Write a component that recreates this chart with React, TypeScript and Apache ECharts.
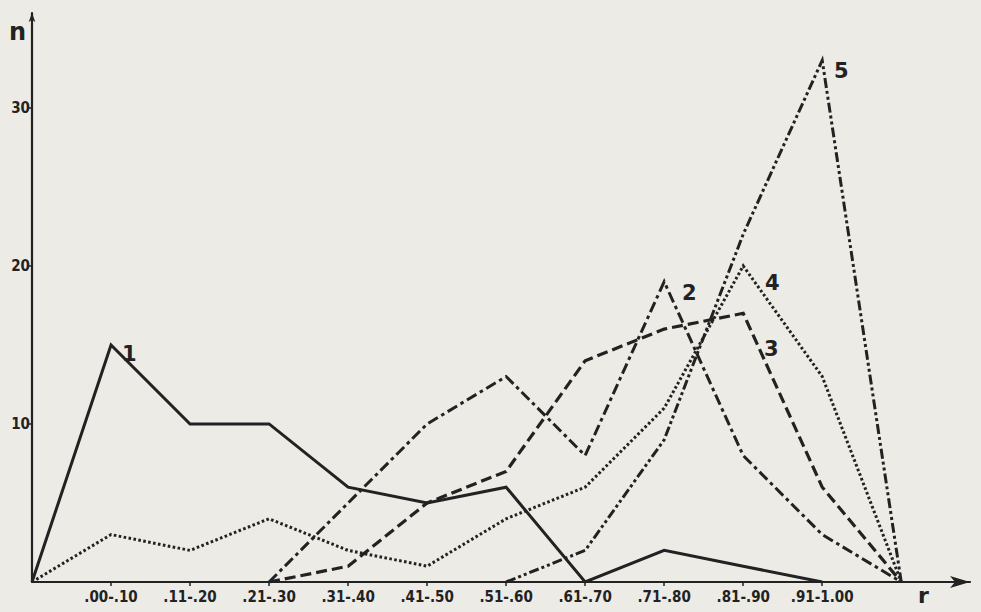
import React, { useEffect, useRef } from "react";
import * as echarts from "echarts";

const categories = [".00-.10", ".11-.20", ".21-.30", ".31-.40", ".41-.50", ".51-.60", ".61-.70", ".71-.80", ".81-.90", ".91-1.00"];
// index 0 = origin, 1..10 = categories, 11 = end point
const series1 = [0, 15, 10, 10, 6, 5, 6, 0, 2, 1, 0, null];
const series2 = [null, null, null, 0, 5, 10, 13, 8, 19, 8, 3, 0];
const series3 = [null, null, null, 0, 1, 5, 7, 14, 16, 17, 6, 0];
const series4 = [0, 3, 2, 4, 2, 1, 4, 6, 11, 20, 13, 0];
const series5 = [null, null, null, null, null, null, 0, 2, 9, 22, 33, 0];
const yTicks = [10, 20, 30];
const seriesLabels = ["1", "2", "3", "4", "5"];

const INK = "#222222";
const FONT = "'Liberation Sans Narrow', 'DejaVu Sans Condensed', 'Liberation Sans', sans-serif";

function toPairs(arr: (number | null)[]) {
  return arr.map((v, i) => [i, v]).filter((p) => p[1] !== null);
}

export default function App() {
  const ref = useRef<HTMLDivElement>(null);
  useEffect(() => {
    document.body.style.margin = "0";
    const chart = echarts.init(ref.current!, null, { renderer: "svg" });
    const mk = (name: string, data: (number | null)[], type: any, width: number) => ({
      name,
      type: "line",
      data: toPairs(data),
      symbol: "none",
      lineStyle: { color: INK, width, type, cap: "butt", join: "miter" },
      z: 3,
    });
    const labelPos: [number, number][] = [
      [122, 343],
      [682, 282],
      [764, 338],
      [765, 272],
      [834, 60],
    ];
    chart.setOption({
      animation: false,
      backgroundColor: "transparent",
      grid: { left: 32, right: 11, top: 13, bottom: 30 },
      xAxis: {
        type: "value",
        min: 0,
        max: 11.87,
        interval: 1,
        splitLine: { show: false },
        axisLine: {
          show: true,
          lineStyle: { color: INK, width: 2.2 },
          symbol: ["none", "arrow"],
          symbolSize: [9, 20],
          symbolOffset: [0, 0],
        },
        axisTick: {
          show: true,
          customValues: [1, 2, 3, 4, 5, 6, 7, 8, 9, 10],
          length: 4,
          lineStyle: { color: INK, width: 1.5 },
        },
        axisLabel: {
          customValues: [1, 2, 3, 4, 5, 6, 7, 8, 9, 10],
          formatter: (v: number) => categories[Math.round(v) - 1] ?? "",
          color: INK,
          fontSize: 15,
          fontWeight: 600,
          fontFamily: FONT,
          margin: 7,
        },
      },
      yAxis: {
        type: "value",
        min: 0,
        max: 36,
        interval: 10,
        splitLine: { show: false },
        axisLine: {
          show: true,
          lineStyle: { color: INK, width: 2.2 },
          symbol: ["none", "arrow"],
          symbolSize: [5, 9],
        },
        axisTick: {
          show: true,
          customValues: yTicks,
          length: 5,
          lineStyle: { color: INK, width: 1.5 },
        },
        axisLabel: {
          customValues: yTicks,
          color: INK,
          fontSize: 15,
          fontWeight: 600,
          fontFamily: FONT,
          margin: 2,
        },
      },
      graphic: [
        { type: "text", left: 9, top: 20, style: { text: "n", font: `bold 24px 'DejaVu Sans', sans-serif`, fill: INK } },
        { type: "text", left: 918, top: 584, style: { text: "r", font: `bold 22px 'DejaVu Sans', sans-serif`, fill: INK } },
        ...seriesLabels.map((t, i) => ({
          type: "text",
          left: labelPos[i][0],
          top: labelPos[i][1],
          style: { text: t, font: `bold 21px 'DejaVu Sans', sans-serif`, fill: INK },
        })),
      ],
      series: [
        mk("1", series1, "solid", 3),
        mk("2", series2, [11, 4, 3.5, 4], 3),
        mk("3", series3, [11, 5], 3.2),
        mk("4", series4, [2.6, 2.4], 3),
        mk("5", series5, [10, 3, 3, 3, 3, 3], 3),
      ],
    });
    return () => chart.dispose();
  }, []);
  return (
    <div style={{ position: "fixed", left: 0, top: 0, width: 981, height: 612, background: "#ecebe6" }}>
      <div ref={ref} style={{ width: 981, height: 612 }} />
    </div>
  );
}
